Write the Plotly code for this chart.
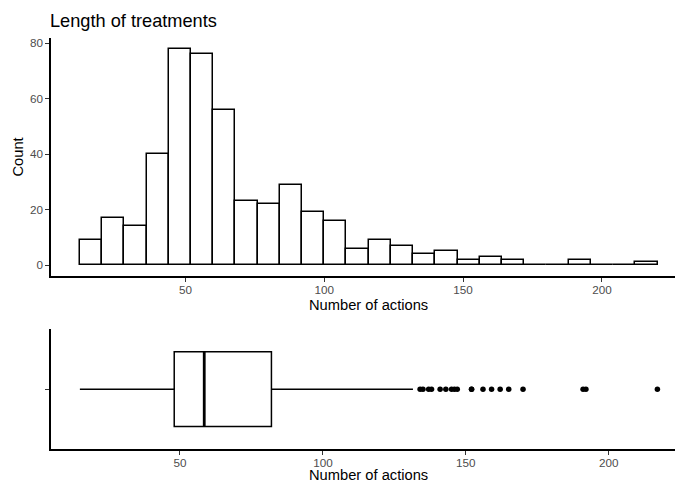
import plotly.graph_objects as go

# ---------------- data ----------------
title_text = "Length of treatments"
x_title = "Number of actions"
y_title = "Count"

bin_width = 8
bin_starts = [12, 20, 28, 36, 44, 52, 60, 68, 76, 84, 92, 100, 108,
              116, 124, 132, 140, 148, 156, 164, 172, 180, 188, 196, 204, 212]
counts = [9, 17, 14, 40, 78, 76, 56, 23, 22, 29, 19, 16, 6,
          9, 7, 4, 5, 2, 3, 2, 0, 0, 2, 0, 0, 1]

box_min = 15
box_q1 = 48
box_median = 58.5
box_q3 = 82
box_upper_whisker = 131.5
outliers = [134, 135, 137, 138, 141, 143, 145, 146, 147, 152, 152,
            156, 159, 162, 165, 170, 191, 192, 217]

x_ticks = [50, 100, 150, 200]
y_ticks = [0, 20, 40, 60, 80]

# ---------------- figure ----------------
bin_centers = [s + bin_width / 2 for s in bin_starts]
FONT = "Liberation Sans, Arial, Helvetica, sans-serif"
LINE_W = 1.5

fig = go.Figure()

fig.add_trace(go.Bar(
    x=bin_centers, y=counts, width=bin_width,
    marker=dict(color="white", line=dict(color="black", width=LINE_W)),
    xaxis="x", yaxis="y", hoverinfo="x+y",
))

fig.add_trace(go.Box(
    y=[1], q1=[box_q1], median=[box_median], q3=[box_q3],
    lowerfence=[box_min], upperfence=[box_upper_whisker],
    orientation="h", width=0.75, whiskerwidth=0,
    fillcolor="white", line=dict(color="black", width=LINE_W),
    boxpoints=False, xaxis="x2", yaxis="y2",
))

# thicker median line (ggplot fatten)
fig.add_trace(go.Scatter(
    x=[box_median, box_median], y=[1 - 0.375, 1 + 0.375], mode="lines",
    line=dict(color="black", width=2.8), xaxis="x2", yaxis="y2",
    hoverinfo="skip",
))

fig.add_trace(go.Scatter(
    x=outliers, y=[1] * len(outliers), mode="markers",
    marker=dict(color="black", size=5.5), xaxis="x2", yaxis="y2",
))

axis_common = dict(
    showgrid=False, zeroline=False, showline=True, linecolor="black",
    linewidth=LINE_W, ticks="outside", ticklen=4, tickwidth=1.1,
    tickcolor="#333333", tickfont=dict(size=11.7, color="#4D4D4D", family=FONT),
)

W, H = 675, 484
plot_left, plot_top, plot_bottom = 51, 38, 449   # window pixels
left_px = plot_left
top_px = plot_top
bot_px = H - plot_bottom
plot_h = H - top_px - bot_px
plot_w = W - left_px


def py(pix):
    return (plot_bottom - pix) / plot_h


def px(pix):
    return (pix - plot_left) / plot_w


x1_lo = 1.6
x1_scale = 2.777            # px per unit
x1_hi = x1_lo + plot_w / x1_scale
x2_lo = 4.9
x2_scale = 2.859
x2_hi = x2_lo + plot_w / x2_scale

fig.update_layout(
    width=W, height=H,
    margin=dict(l=left_px, r=0, t=top_px, b=bot_px),
    paper_bgcolor="white", plot_bgcolor="white",
    showlegend=False, bargap=0,
    font=dict(family=FONT, color="black"),
    xaxis=dict(domain=[0, 1], anchor="y", range=[x1_lo, x1_hi],
               tickvals=x_ticks, ticklabelstandoff=-2, **axis_common),
    yaxis=dict(domain=[py(276), 1], anchor="x", range=[-3.9, 81.9],
               tickvals=y_ticks, **axis_common),
    xaxis2=dict(domain=[0, 1], anchor="y2", range=[x2_lo, x2_hi],
                tickvals=x_ticks, ticklabelstandoff=-2, **axis_common),
    yaxis2=dict(domain=[0, py(329.3)], anchor="x2", range=[0.4, 1.6],
                tickvals=[1], ticktext=[""], **axis_common),
    annotations=[
        dict(text=title_text, xref="paper", yref="paper", x=px(48), y=py(20.5),
             xanchor="left", yanchor="middle", showarrow=False,
             font=dict(size=18.2, color="black", family=FONT)),
        dict(text=y_title, xref="paper", yref="paper", x=px(17.5), y=py(157),
             xanchor="center", yanchor="middle", textangle=-90, showarrow=False,
             font=dict(size=14.7, color="black", family=FONT)),
        dict(text=x_title, xref="paper", yref="paper", x=px(368), y=py(305),
             xanchor="center", yanchor="middle", showarrow=False,
             font=dict(size=14.7, color="black", family=FONT)),
        dict(text=x_title, xref="paper", yref="paper", x=px(368), y=py(484),
             xanchor="center", yanchor="bottom", showarrow=False, borderpad=0,
             font=dict(size=14.7, color="black", family=FONT)),
    ],
)

fig.write_html(
    "out.html",
    config={"displayModeBar": False},
    post_script="document.body.style.margin='0';"
                "document.documentElement.style.overflow='hidden';",
)
